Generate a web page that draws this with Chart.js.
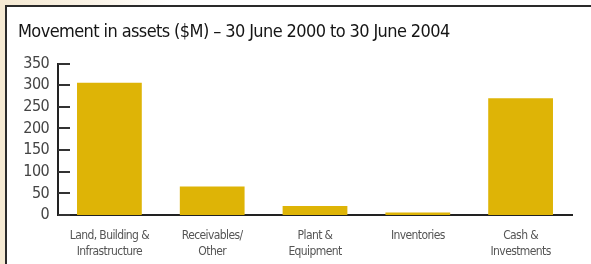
<!DOCTYPE html>
<html>
<head>
<meta charset="utf-8">
<script src="https://cdn.jsdelivr.net/npm/chart.js@4/dist/chart.umd.min.js"></script>
<style>
  html, body { margin: 0; padding: 0; }
  body {
    width: 591px; height: 264px; overflow: hidden; position: relative;
    background: linear-gradient(to right, #f5e9d2 0px, #faf3e6 90px, #ffffff 170px);
  }
  #frame {
    position: absolute; left: 5px; top: 5px; width: 590px; height: 262px;
    background: #fff; border-left: 2px solid #2a2a2a; border-top: 2px solid #2a2a2a;
  }
  #wrap { position: absolute; left: 0; top: 0; width: 591px; height: 264px; }
</style>
</head>
<body>
<div id="frame"></div>
<div id="wrap"><canvas id="assetChart"></canvas></div>
<script>
const categories = [
    ['Land, Building &', 'Infrastructure'],
    ['Receivables/', 'Other'],
    ['Plant &', 'Equipment'],
    ['Inventories'],
    ['Cash &', 'Investments'],
];
const movement = [306, 66, 21, 6, 270];
const yTicks = [0, 50, 100, 150, 200, 250, 300, 350];

const fontFamily = "'DejaVu Sans Condensed', Roboto, sans-serif";

// tighten the letters a bit, the original uses a condensed face
const tightText = {
    id: 'tightText',
    beforeUpdate(chart) { chart.ctx.letterSpacing = '-0.6px'; },
    beforeDraw(chart) { chart.ctx.letterSpacing = '-0.6px'; }
};

// little tick marks pointing into the plot, like the print original
const insideTicks = {
    id: 'insideTicks',
    afterDraw(chart) {
        const ctx = chart.ctx;
        const y = chart.scales.y;
        const x0 = chart.chartArea.left;
        ctx.save();
        ctx.strokeStyle = '#333';
        ctx.lineWidth = 2;
        yTicks.forEach(v => {
            const py = Math.round(y.getPixelForValue(v));
            ctx.beginPath();
            ctx.moveTo(x0, py);
            ctx.lineTo(x0 + 12, py);
            ctx.stroke();
        });
        ctx.restore();
    }
};

const data = {
    labels: categories,
    datasets: [{
        data: movement,
        backgroundColor: '#deb406',
        borderWidth: 0,
        categoryPercentage: 1,
        barPercentage: 0.63,
    }]
};

const config = {
    type: 'bar',
    data: data,
    plugins: [tightText, insideTicks],
    options: {
        responsive: false,
        animation: false,
        layout: { padding: { left: 18, right: 19, top: 0, bottom: 0 } },
        scales: {
            x: {
                grid: { display: false, drawTicks: false },
                border: { display: true, color: '#222', width: 2 },
                ticks: {
                    color: '#555',
                    font: { family: fontFamily, size: 12, lineHeight: 1.4 },
                    padding: 12,
                    maxRotation: 0,
                    autoSkip: false,
                },
                afterFit(scale) { scale.height = 49; }
            },
            y: {
                min: 0,
                max: 350,
                grid: { display: false, drawTicks: false },
                border: { display: true, color: '#222', width: 2 },
                afterBuildTicks(scale) { scale.ticks = yTicks.map(v => ({ value: v })); },
                ticks: {
                    color: '#444',
                    font: { family: fontFamily, size: 16 },
                    padding: 9,
                    autoSkip: false,
                },
                afterFit(scale) { scale.width = 40; }
            }
        },
        plugins: {
            legend: { display: false },
            tooltip: { enabled: false },
            title: {
                display: true,
                text: 'Movement in assets ($M) – 30 June 2000 to 30 June 2004',
                align: 'start',
                color: '#151515',
                font: { family: fontFamily, size: 18, weight: '500', lineHeight: 1.2 },
                padding: { top: 22, bottom: 20 },
            }
        }
    }
};

const canvas = document.getElementById('assetChart');
canvas.width = 591;
canvas.height = 264;
const myChart = new Chart(canvas, config);
</script>
</body>
</html>
